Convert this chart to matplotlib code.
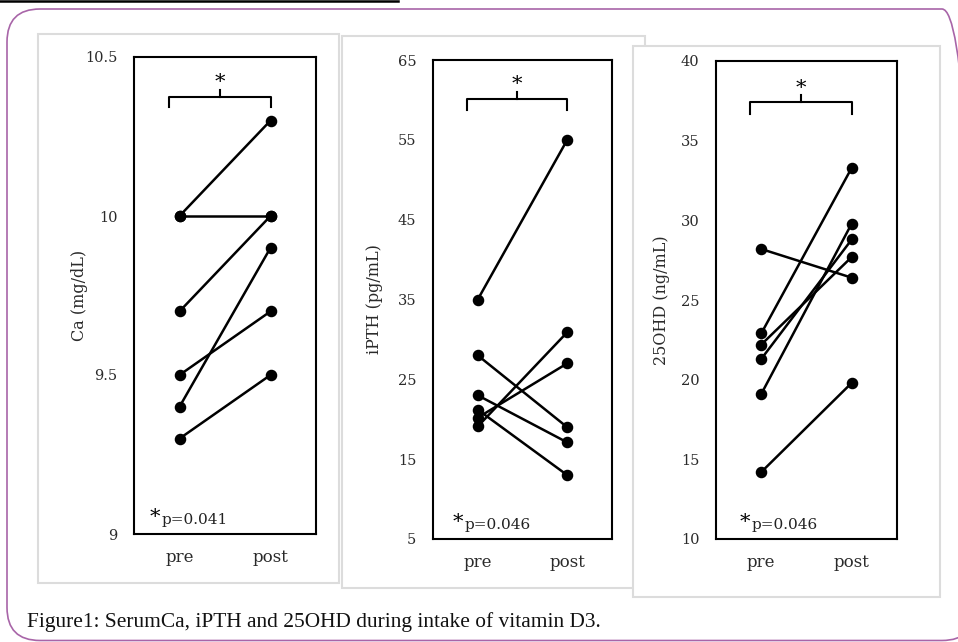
import matplotlib.pyplot as plt
from matplotlib.patches import Rectangle, FancyBboxPatch
from matplotlib.lines import Line2D

# datos
grupos = ["pre", "post"]

ca_pre = [10.0, 10.0, 9.7, 9.5, 9.4, 9.3]
ca_post = [10.3, 10.0, 10.0, 9.7, 9.9, 9.5]

pth_pre = [35, 28, 23, 21.2, 20.2, 19.1]
pth_post = [55, 19, 17.1, 13, 27, 30.9]

ohd_pre = [28.2, 22.9, 22.2, 21.3, 19.1, 14.2]
ohd_post = [26.4, 33.3, 27.7, 28.8, 29.8, 19.8]

ylabels = ["Ca (mg/dL)", "iPTH (pg/mL)", "25OHD (ng/mL)"]
yticks = [[9, 9.5, 10, 10.5], [5, 15, 25, 35, 45, 55, 65], [10, 15, 20, 25, 30, 35, 40]]
yticklabels = [["9", "9.5", "10", "10.5"],
               ["5", "15", "25", "35", "45", "55", "65"],
               ["10", "15", "20", "25", "30", "35", "40"]]
pvalores = ["p=0.041", "p=0.046", "p=0.046"]
# corchete de significancia: altura de la barra y de las patas
corchete = [(10.374, 10.343), (60.1, 58.7), (37.4, 36.7)]

W, H = 958, 642
fig = plt.figure(figsize=(W / 100, H / 100), dpi=100)

serif = "DejaVu Serif"

# marco morado redondeado
borde = FancyBboxPatch((0.07, 0.015), 9.68, 6.42 - 0.09 - 0.015,
                       boxstyle="round,pad=0,rounding_size=0.33",
                       transform=fig.dpi_scale_trans, fill=False,
                       edgecolor="#a865a8", linewidth=1.2, zorder=-5)
fig.add_artist(borde)
fig.add_artist(Line2D([0, 398 / W], [1 - 1 / H, 1 - 1 / H], color="black",
                      linewidth=1.8, transform=fig.transFigure))

# cajas grises de cada panel (x0, y0 arriba, x1, y1 abajo en px)
cajas = [(38, 34, 339, 583), (342, 36, 645, 588), (633, 46, 940, 597)]
for i, (x0, y0, x1, y1) in enumerate(cajas):
    fig.add_artist(Rectangle((x0 / W, 1 - y1 / H), (x1 - x0) / W, (y1 - y0) / H,
                             transform=fig.transFigure, facecolor="white",
                             edgecolor="#dcdcdc", linewidth=1.5, zorder=-4 + i))

# posiciones de los ejes (px)
marcos = [(134, 57, 316, 534), (433, 60, 612, 539), (716, 61, 897, 539)]
label_x = [-0.255, -0.282, -0.256]
star_x = [0.088, 0.11, 0.13]

datos = [(ca_pre, ca_post), (pth_pre, pth_post), (ohd_pre, ohd_post)]

for k, (x0, y0, x1, y1) in enumerate(marcos):
    ax = fig.add_axes([x0 / W, 1 - y1 / H, (x1 - x0) / W, (y1 - y0) / H])
    pre, post = datos[k]
    for a, b in zip(pre, post):
        ax.plot([0, 1], [a, b], color="black", linewidth=1.8, marker="o",
                markersize=7.3, clip_on=False)
    ax.set_xlim(-0.5, 1.5)
    ax.set_ylim(yticks[k][0], yticks[k][-1])
    ax.set_yticks(yticks[k])
    ax.set_yticklabels(yticklabels[k], family=serif, fontsize=10.5, color="#2a2a2a")
    ax.set_xticks([0, 1])
    ax.set_xticklabels(grupos, family=serif, fontsize=12, color="#2a2a2a")
    ax.tick_params(axis="y", length=0, pad=12)
    ax.tick_params(axis="x", length=0, pad=11)
    for s in ax.spines.values():
        s.set_linewidth(1.5)
    ax.set_ylabel(ylabels[k], family=serif, fontsize=11.5, color="#2a2a2a")
    ax.yaxis.set_label_coords(label_x[k], 0.5)

    # corchete y asterisco
    top, leg = corchete[k]
    ax.plot([-0.12, -0.12, 1.0, 1.0], [leg, top, top, leg], color="black", linewidth=1.5)
    rng = yticks[k][-1] - yticks[k][0]
    ax.plot([0.44, 0.44], [top, top + rng * 0.015], color="black", linewidth=1.5)
    ax.text(0.44, top + rng * 0.01, "*", ha="center", va="bottom", fontsize=15,
            family=serif, color="black")

    # valor p
    ax.text(star_x[k], 0.015, "*", transform=ax.transAxes, ha="left", va="bottom",
            fontsize=15, family=serif, color="black")
    ax.text(star_x[k] + 0.065, 0.015, pvalores[k], transform=ax.transAxes, ha="left",
            va="bottom", fontsize=11, family=serif, color="#222222")

fig.text(27 / W, 1 - 622 / H, "Figure1: SerumCa, iPTH and 25OHD during intake of vitamin D3.",
         family="Liberation Serif", fontsize=15.4, ha="left", va="center", color="#111111")

plt.savefig("out.png", dpi=100)
